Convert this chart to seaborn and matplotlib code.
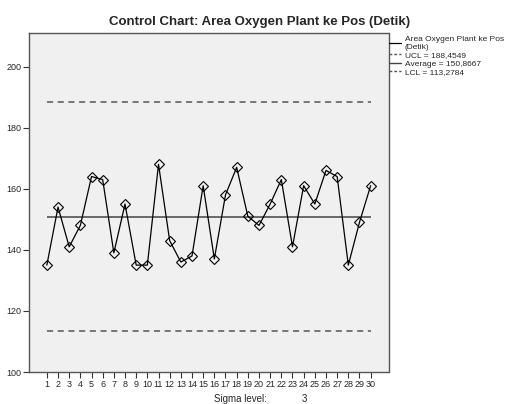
import pandas as pd
import seaborn as sns
import matplotlib.pyplot as plt
from matplotlib.lines import Line2D

# Data
samples = list(range(1, 31))
seconds = [135, 154, 141, 148, 164, 163, 139, 155, 135, 135,
           168, 143, 136, 138, 161, 137, 158, 167, 151, 148,
           155, 163, 141, 161, 155, 166, 164, 135, 149, 161]
ucl = 188.4549
average = 150.8667
lcl = 113.2784
series_name = 'Area Oxygen Plant ke Pos\n(Detik)'
sigma_level = 3
y_ticks = [100, 120, 140, 160, 180, 200]

df = pd.DataFrame({'sample': samples, 'value': seconds})

sns.set_style("ticks")
plt.rcParams['font.family'] = ['Liberation Sans', 'DejaVu Sans']

fig = plt.figure(figsize=(5.11, 4.04), dpi=100)
ax = fig.add_axes([29 / 511, 1 - 372 / 404, 359.5 / 511, 339 / 404])
ax.set_facecolor('#F0F0F0')

# Control limits
ax.hlines([ucl, lcl], samples[0], samples[-1], colors='#555555', linestyles=(0, (4, 3)), linewidth=1.1)
ax.hlines(average, samples[0], samples[-1], colors='#444444', linewidth=1.1)

sns.lineplot(data=df, x='sample', y='value', ax=ax, color='black', linewidth=0.9,
             marker='D', markersize=5.3, markerfacecolor='none', markeredgecolor='black',
             markeredgewidth=0.8)

ax.set_xlim(-0.6, 31.6)
ax.set_ylim(100, 211)
ax.set_xticks(samples)
ax.set_xticklabels([str(s) for s in samples], fontsize=6.5)
ax.set_yticks(y_ticks)
ax.set_yticklabels([str(v) for v in y_ticks], fontsize=6.5)
ax.tick_params(axis='both', length=4, width=0.8, color='#333333', pad=1.5)
ax.set_xlabel('')
ax.set_ylabel('')
for sp in ax.spines.values():
    sp.set_color('#555555')
    sp.set_linewidth(1.0)

# Legend to the right
handles = [
    Line2D([], [], color='black', linewidth=0.9),
    Line2D([], [], color='#555555', linewidth=1.0, linestyle=(0, (2, 1.5))),
    Line2D([], [], color='#444444', linewidth=1.0),
    Line2D([], [], color='#555555', linewidth=1.0, linestyle=(0, (2, 1.5))),
]
labels = [series_name,
          f'UCL = {ucl:.4f}'.replace('.', ','),
          f'Average = {average:.4f}'.replace('.', ','),
          f'LCL = {lcl:.4f}'.replace('.', ',')]
fig.legend(handles, labels, loc='upper left', bbox_to_anchor=(389 / 511, 1 - 36 / 404),
           frameon=False, fontsize=6, handlelength=1.4, handletextpad=0.5,
           labelspacing=0.05, borderaxespad=0, borderpad=0)

fig.text(260 / 511, 1 - 22 / 404, 'Control Chart: Area Oxygen Plant ke Pos (Detik)',
         ha='center', va='center', fontsize=9.5, fontweight='bold')
fig.text(240 / 511, 1 - 399 / 404, 'Sigma level:', ha='center', va='center', fontsize=7)
fig.text(304 / 511, 1 - 399 / 404, str(sigma_level), ha='center', va='center', fontsize=7)

plt.savefig('out.png', dpi=100)
